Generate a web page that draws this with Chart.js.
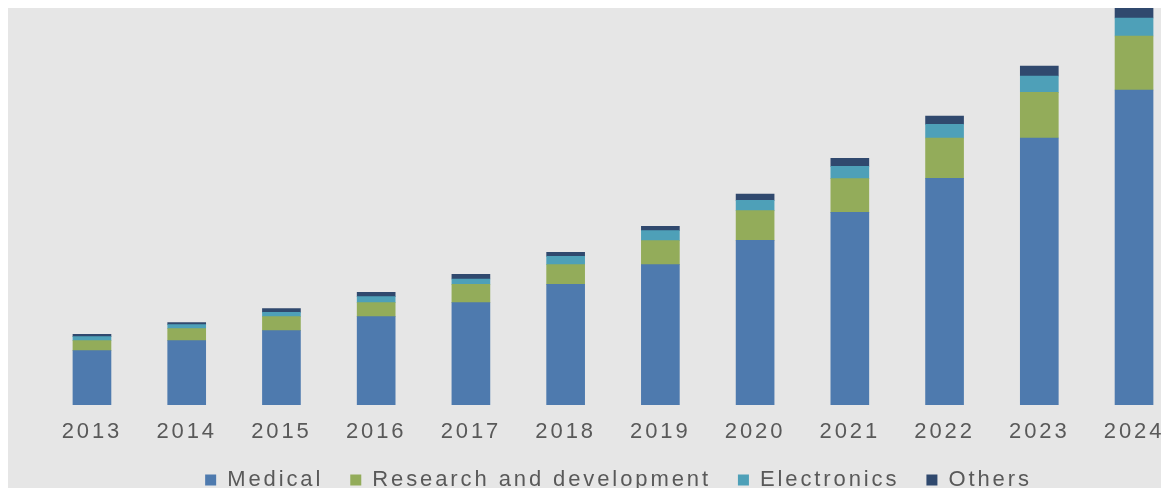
<!DOCTYPE html>
<html>
<head>
<meta charset="utf-8">
<script src="https://cdn.jsdelivr.net/npm/chart.js@4"></script>
<style>
  html, body { margin: 0; padding: 0; background: #fff; overflow: hidden; }
  #wrap { position: absolute; left: 8px; top: 8px; width: 1244px; height: 493px; background: #e6e6e6; }
</style>
</head>
<body>
<div id="wrap"><canvas id="myChart"></canvas></div>
<script>
var years = ['2013', '2014', '2015', '2016', '2017', '2018', '2019', '2020', '2021', '2022', '2023', '2024'];
var medical = [54.3, 64.3, 74.3, 88.3, 102.3, 120.7, 140.3, 164.7, 192.7, 226.7, 267, 315];
var research = [10, 12, 14, 14, 18.4, 19.6, 24, 29.6, 33.6, 40.3, 45.7, 54];
var electronics = [4, 4, 4.4, 6, 5.3, 8.4, 10, 10.4, 12.4, 13.7, 16.3, 18];
var others = [2.4, 2, 3.6, 4.4, 4.7, 4, 4.4, 6.3, 8, 8.3, 10, 12];

// the text in the picture is stretched sideways, so space the letters
var spacing = {
  id: 'spacing',
  beforeUpdate: function(chart) { chart.ctx.letterSpacing = '2.9px'; },
  beforeDraw: function(chart) { chart.ctx.letterSpacing = '2.9px'; }
};

var ctx = document.getElementById('myChart');
var myChart = new Chart(ctx, {
  type: 'bar',
  data: {
    labels: years,
    datasets: [
      { label: 'Medical', data: medical, backgroundColor: '#4e7aae' },
      { label: 'Research and development', data: research, backgroundColor: '#93ac5a' },
      { label: 'Electronics', data: electronics, backgroundColor: '#4ea0b8' },
      { label: 'Others', data: others, backgroundColor: '#30496e' }
    ]
  },
  options: {
    responsive: true,
    maintainAspectRatio: false,
    animation: false,
    layout: { padding: { left: 36.6, right: 59.6, top: 0, bottom: 0 } },
    datasets: { bar: { barThickness: 38, borderWidth: 0 } },
    scales: {
      x: {
        stacked: true,
        grid: { display: false },
        border: { display: false },
        ticks: { color: '#595959', font: { family: 'Liberation Sans', size: 22 }, padding: 6, maxRotation: 0, autoSkip: false },
        afterFit: function(scale) { scale.height = 37; }
      },
      // hidden axis, only there to nudge the legend over a little
      y: {
        stacked: true, position: 'right', min: 0, max: 397,
        grid: { display: false },
        border: { display: false },
        ticks: { display: false },
        afterFit: function(scale) { scale.width = 11; }
      }
    },
    plugins: {
      legend: {
        position: 'bottom',
        labels: { color: '#595959', font: { family: 'Liberation Sans', size: 22 }, boxWidth: 11, boxHeight: 11, padding: 27 }
      },
      tooltip: { enabled: false }
    }
  },
  plugins: [spacing]
});
</script>
</body>
</html>
